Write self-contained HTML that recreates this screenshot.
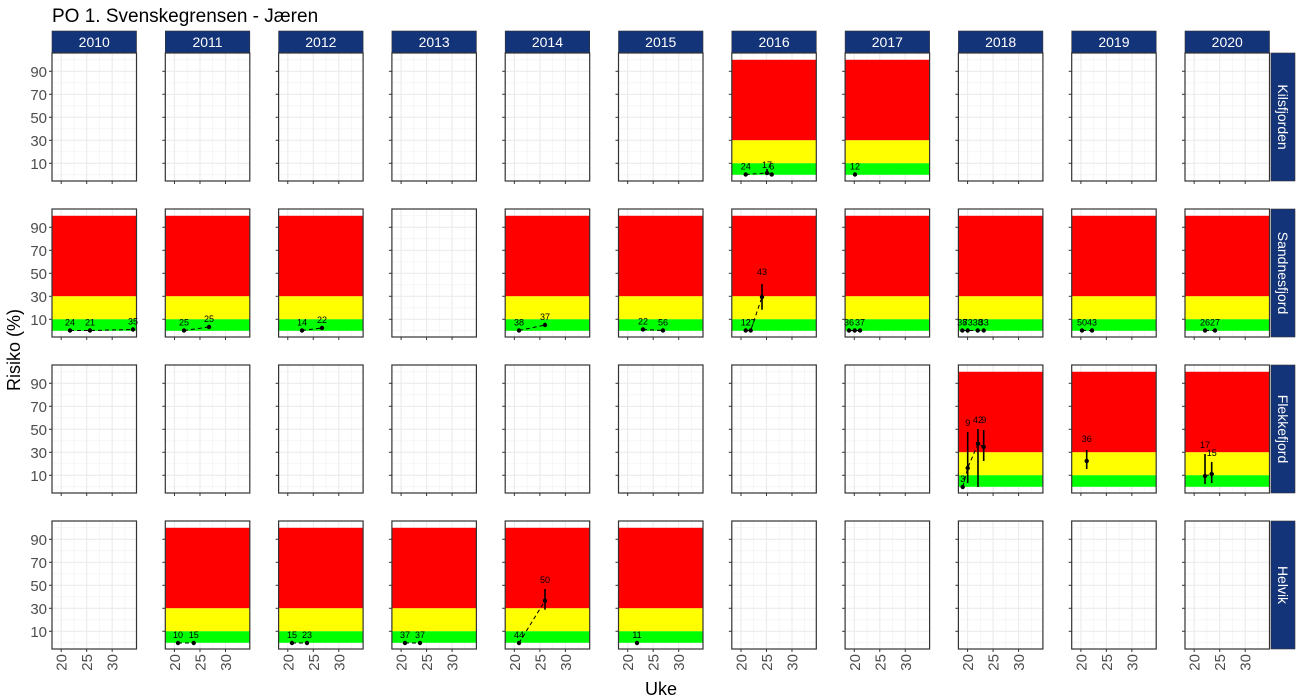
<!DOCTYPE html>
<html><head><meta charset="utf-8"><style>
body{margin:0;background:#fff}
svg{display:block;font-family:"Liberation Sans",sans-serif}
</style></head><body>
<svg id="s" width="1300" height="700" xmlns="http://www.w3.org/2000/svg">
<text x="52" y="22" font-size="19" fill="#000">PO 1. Svenskegrensen - Jæren</text>
<text transform="translate(20,350) rotate(-90)" text-anchor="middle" font-size="18" fill="#000">Risiko (%)</text>
<text x="661" y="695" text-anchor="middle" font-size="18" fill="#000">Uke</text>
</svg>
<script>
const s=document.getElementById('s'),NS='http://www.w3.org/2000/svg';
function el(t,a,txt){const e=document.createElementNS(NS,t);for(const k in a)e.setAttribute(k,a[k]);if(txt!==undefined)e.textContent=txt;s.appendChild(e);return e;}
const years=[2010,2011,2012,2013,2014,2015,2016,2017,2018,2019,2020];
const rows=['Kilsfjorden','Sandnesfjord','Flekkefjord','Helvik'];
const W=84.5,H=128,tops=[53,209,365,521];
const X=(c,w)=>52+c*113.3+(w-18.2)*5.1;
const Y=(r,v)=>tops[r]+(105.9-v)*1.15;
const bands={0:[6,7],1:[0,1,2,4,5,6,7,8,9,10],2:[8,9,10],3:[1,2,3,4,5]};
years.forEach((y,c)=>{
 const x0=52+c*113.3;
 el('rect',{x:x0,y:31,width:W,height:22,fill:'#14347a',stroke:'#333','stroke-width':0.6});
 el('text',{x:x0+W/2,y:47,'text-anchor':'middle','font-size':14,fill:'#fff'},y);
 rows.forEach((rn,r)=>{
  const t=tops[r];
  for(const v of [0,20,40,60,80,100])el('line',{x1:x0,x2:x0+W,y1:Y(r,v),y2:Y(r,v),stroke:'#f0f0f0','stroke-width':0.6});
  for(const w of [22.5,27.5,32.5])el('line',{y1:t,y2:t+H,x1:X(c,w),x2:X(c,w),stroke:'#f0f0f0','stroke-width':0.6});
  for(const v of [10,30,50,70,90])el('line',{x1:x0,x2:x0+W,y1:Y(r,v),y2:Y(r,v),stroke:'#ebebeb','stroke-width':1.1});
  for(const w of [20,25,30])el('line',{y1:t,y2:t+H,x1:X(c,w),x2:X(c,w),stroke:'#ebebeb','stroke-width':1.1});
  if(bands[r].includes(c)){
   el('rect',{x:x0,y:Y(r,100),width:W,height:Y(r,30)-Y(r,100),fill:'#ff0000'});
   el('rect',{x:x0,y:Y(r,30),width:W,height:Y(r,10)-Y(r,30),fill:'#ffff00'});
   el('rect',{x:x0,y:Y(r,10),width:W,height:Y(r,0)-Y(r,10),fill:'#00ff00'});
  }
  el('rect',{x:x0,y:t,width:W,height:H,fill:'none',stroke:'#333','stroke-width':1.2});
  for(const v of [10,30,50,70,90]){el('line',{x1:x0-3,x2:x0,y1:Y(r,v),y2:Y(r,v),stroke:'#333'});
   if(c==0)el('text',{x:x0-5,y:Y(r,v)+5.5,'text-anchor':'end','font-size':15,fill:'#4d4d4d'},v);}
  for(const w of [20,25,30]){el('line',{y1:t+H,y2:t+H+3,x1:X(c,w),x2:X(c,w),stroke:'#333'});
   if(r==3)el('text',{transform:`translate(${X(c,w)+5.5},${t+H+5}) rotate(-90)`,'text-anchor':'end','font-size':15,fill:'#4d4d4d'},w);}
  if(c==10){el('rect',{x:1271,y:t,width:24,height:H,fill:'#14347a',stroke:'#333','stroke-width':0.6});
   el('text',{transform:`translate(1278,${t+H/2}) rotate(90)`,'text-anchor':'middle','font-size':14,fill:'#fff'},rn);}
 });
});
const D=[
[0,6,[[745.7,174.5,'24'],[767,173,'17',169,175],[771.7,174.5,'6']]],
[0,7,[[855,174.5,'12']]],
[1,0,[[70,330.5,'24'],[90,330.5,'21'],[133,329.5,'35']]],
[1,1,[[184,330.5,'25'],[209,327,'25']]],
[1,2,[[302,330.5,'14'],[322,328,'22']]],
[1,4,[[519,330.5,'38'],[545,325,'37']]],
[1,5,[[643,329.5,'22'],[663,330.5,'56']]],
[1,6,[[745.7,330.5,'12'],[750.7,330.5,'27'],[762,297,'43',284,309.7,'275']]],
[1,7,[[849,330.5,'36'],[854.7,330.5,''],[860,330.5,'37']]],
[1,8,[[962.3,330.5,'38'],[967.7,330.5,'73'],[977.7,330.5,'38'],[983.7,330.5,'33']]],
[1,9,[[1082,330.5,'50'],[1092,330.5,'43']]],
[1,10,[[1205,330.5,'26'],[1215,330.5,'27']]],
[2,8,[[962.7,487,'3'],[967.7,468,'9',432,483,'426'],[978,443.7,'42',429,487,'423'],[983.7,447,'9',430,461,'423']]],
[2,9,[[1086.7,461,'36',450,469,'442']]],
[2,10,[[1205,476,'17',454,484,'448'],[1211.7,474,'15',462,483,'456']]],
[3,1,[[178,643,'10'],[193.7,643,'15']]],
[3,2,[[292,643,'15'],[307,643,'23']]],
[3,3,[[405,643,'37'],[420,643,'37']]],
[3,4,[[519,643,'44'],[545,600.7,'50',589,609.7,'583']]],
[3,5,[[637,643,'11']]]];
D.forEach(([r,c,pts])=>{
 if(pts.length>1){el('polyline',{points:pts.map(p=>p[0]+','+p[1]).join(' '),fill:'none',stroke:'#000','stroke-width':1,'stroke-dasharray':'4,3'});}
 pts.forEach(p=>{
  if(p[3])el('line',{x1:p[0],x2:p[0],y1:p[3],y2:p[4],stroke:'#000','stroke-width':1.6});
  el('circle',{cx:p[0],cy:p[1],r:2.2,fill:'#000'});
  if(p[2])el('text',{x:p[0],y:p[5]?+p[5]:p[1]-5,'text-anchor':'middle','font-size':9,fill:'#000'},p[2]);
 });
});
</script>
</body></html>
